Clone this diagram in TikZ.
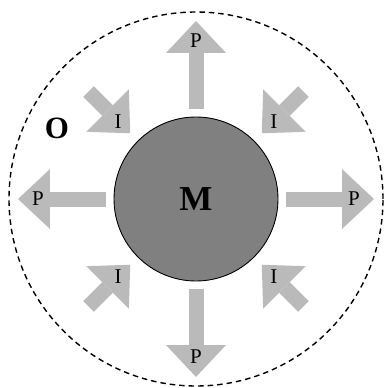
\documentclass[tikz,border=0pt]{standalone}
\usepackage{fontspec}
\setmainfont{Liberation Serif}
\usetikzlibrary{arrows.meta, calc}
\definecolor{arrowGray}{HTML}{BABABA}
\definecolor{coreGray}{HTML}{808080}

\begin{document}
\begin{tikzpicture}[x=1pt,y=1pt]
    \tikzset{flow/.style={draw=arrowGray,line width=15pt,-{Triangle[width=60pt,length=32pt,line width=0pt]}}, lbl/.style={inner sep=0pt,font=\fontsize{21}{21}\selectfont}}
    \useasboundingbox (-196,-189) rectangle (187,199);
    \node[circle,draw,line width=1.4pt,dash pattern=on 5.5pt off 4pt,minimum size=374pt] (o) at (0,0) {};
    \node[circle,draw,line width=0.9pt,fill=coreGray,minimum size=164pt,font=\fontsize{35}{35}\selectfont\bfseries] (m) at (0,0) {M};
    \node[lbl,font=\fontsize{31}{31}\selectfont\bfseries] (olbl) at (-139,71) {O};
    % outward arrows
    \foreach \a in {0,90,180,270} {
      \coordinate (p\a s) at ($(m.center)+(\a:90)$);
      \coordinate (p\a e) at ($(m.center)+(\a:178)$);
      \draw[flow] (p\a s) -- (p\a e);
      \node[lbl] (p\a) at ($(m.center)+(\a:158)$) {P};
    }
    % inward arrows
    \foreach \a in {45,135,225,315} {
      \coordinate (i\a s) at ($(m.center)+(\a:152)$);
      \coordinate (i\a e) at ($(m.center)+(\a:93)$);
      \draw[flow] (i\a s) -- (i\a e);
      \node[lbl] (i\a) at ($(m.center)+(\a:110)$) {I};
    }
\end{tikzpicture}
\end{document}
